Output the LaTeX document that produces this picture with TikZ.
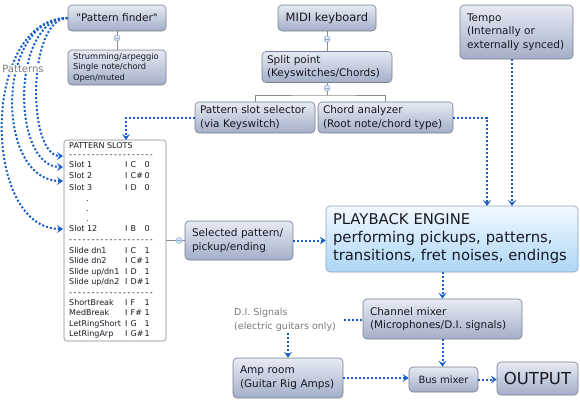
\documentclass[tikz,border=0pt]{standalone}
\usepackage{fontspec}
\setmainfont{DejaVu Sans}[Ligatures=TeXOff]
\newfontfamily\rulefont{DejaVu Sans}[Ligatures=TeXOff, LetterSpace=20]
\usetikzlibrary{arrows.meta}

\definecolor{boxtop}{RGB}{230,234,243}
\definecolor{boxbot}{RGB}{163,174,200}
\definecolor{boxline}{RGB}{118,126,146}
\definecolor{engtop}{RGB}{242,249,255}
\definecolor{engbot}{RGB}{172,214,246}
\definecolor{engline}{RGB}{138,162,188}
\definecolor{flowblue}{RGB}{22,94,204}
\definecolor{linkgray}{RGB}{140,140,140}
\definecolor{notegray}{RGB}{122,122,122}
\definecolor{knobfill}{RGB}{222,232,247}
\definecolor{knobline}{RGB}{140,165,205}
\definecolor{slotline}{RGB}{135,135,135}
\definecolor{textdark}{RGB}{25,25,35}

\tikzset{
	box/.style={draw=boxline, line width=0.6pt, rounded corners=4pt, top color=boxtop, bottom color=boxbot, text=textdark, align=left, inner xsep=6pt, inner ysep=2pt, font=\fontsize{10.5}{13.5}\selectfont},
	centerbox/.style={box, align=center},
	engbox/.style={box, top color=engtop, bottom color=engbot, draw=engline, inner xsep=7pt, font=\fontsize{14.8}{18}\selectfont},
	flowline/.style={draw=flowblue, line width=2pt, dash pattern=on 2pt off 2pt},
	flow/.style={flowline, -{Stealth[length=6pt,width=8pt,inset=2.5pt]}},
	link/.style={draw=linkgray, line width=0.6pt},
	knob/.style={circle, draw=knobline, fill=knobfill, line width=0.5pt, minimum size=6pt, inner sep=0pt,
		path picture={\draw[knobline, line width=0.5pt] ([xshift=-1.6pt]path picture bounding box.center) -- ([xshift=1.6pt]path picture bounding box.center);}},
	slottxt/.style={anchor=west, inner sep=0pt, text height=6pt, text depth=1.5pt, text=textdark, font=\fontsize{8}{10}\selectfont},
	note/.style={text=notegray, align=left, inner sep=1pt, font=\fontsize{9.5}{14}\selectfont}
}

\begin{document}
\begin{tikzpicture}[x=1pt,y=-1pt]
	\useasboundingbox (0,0) rectangle (580,400);

	\node[centerbox, minimum width=98pt, minimum height=26pt] (finder) at (117,18) {"Pattern finder"};
	\node[knob] (k1) at (117,38) {};
	\node[box, inner xsep=5pt, text width=88pt, minimum height=35pt, font=\fontsize{8.3}{10.5}\selectfont] (strum) at (117,67.5) {Strumming/arpeggio\\Single note/chord\\Open/muted};

	\node[centerbox, minimum width=98pt, minimum height=26pt, font=\fontsize{11.5}{13.5}\selectfont] (midi) at (327,18) {MIDI keyboard};
	\node[knob] (k2) at (327,39) {};
	\node[box, inner xsep=5pt, text width=120pt, minimum height=31pt] (split) at (327,67) {Split point\\(Keyswitches/Chords)};
	\node[knob] (k3) at (327,88) {};
	\coordinate (fork) at (327,95);
	\node[box, inner xsep=5pt, text width=110pt, minimum height=31pt] (selector) at (255,117.5) {Pattern slot selector\\(via Keyswitch)};
	\node[box, inner xsep=5pt, text width=125pt, minimum height=31pt] (chord) at (385.5,117.5) {Chord analyzer\\(Root note/chord type)};

	\node[box, inner xsep=7pt, text width=99pt, minimum height=54pt] (tempo) at (516.5,32) {Tempo\\(Internally or\\externally synced)};

	\node[draw=slotline, line width=0.6pt, fill=white, rounded corners=3pt, minimum width=102pt, minimum height=201pt, inner sep=0pt] (slots) at (115,240.5) {};
	\node[slottxt] (slothead) at (69,146) {PATTERN SLOTS};
	\foreach \y [count=\i] in {155,240,293}
		\node[slottxt, font=\rulefont\fontsize{8}{10}\selectfont] (rule\i) at (69,\y) {-------------------};
	\foreach \y [count=\i] in {199,209,219}
		\node[slottxt] (dot\i) at (86,\y) {.};
	\foreach \y/\nm/\nt/\dg [count=\i] in {165/{Slot 1}/C/0, 176.5/{Slot 2}/C\#/0, 188/{Slot 3}/D/0, 229/{Slot 12}/B/0,
		251.5/{Slide dn1}/C/1, 261.5/{Slide dn2}/C\#/1, 272/{Slide up/dn1}/D/1, 282.5/{Slide up/dn2}/D\#/1,
		303/{ShortBreak}/F/1, 313.5/{MedBreak}/F\#/1, 324/{LetRingShort}/G/1, 334/{LetRingArp}/G\#/1}{
		\node[slottxt] (slot\i) at (69,\y) {\nm};
		\node[slottxt] (key\i) at (125,\y) {I};
		\node[slottxt] (note\i) at (130.5,\y) {\nt};
		\node[slottxt] (vel\i) at (144.5,\y) {\dg};
	}
	\node[knob] (k4) at (179,240.5) {};
	\node[box, inner xsep=7pt, text width=94pt, minimum height=39pt] (selected) at (239,240.5) {Selected pattern/\\pickup/ending};

	\node[engbox, text width=238pt, minimum height=66pt] (engine) at (452,239) {PLAYBACK ENGINE\\performing pickups, patterns,\\transitions, fret noises, endings};

	\node[box, inner xsep=7pt, text width=145pt, minimum height=40pt] (chmix) at (442.5,319) {Channel mixer\\(Microphones/D.I. signals)};
	\node[note, anchor=west] (di) at (233,320) {D.I. Signals\\(electric guitars only)};
	\node[box, inner xsep=7pt, text width=96pt, minimum height=40pt] (amp) at (288,378) {Amp room\\(Guitar Rig Amps)};
	\node[centerbox, minimum width=69pt, minimum height=25pt, font=\fontsize{10}{12}\selectfont] (bus) at (443.5,379.5) {Bus mixer};
	\node[centerbox, minimum width=81pt, minimum height=33pt, font=\fontsize{16.5}{18}\selectfont] (output) at (537.5,378.5) {OUTPUT};

	\draw[link] (finder) -- (k1) -- (strum);
	\draw[link] (midi) -- (k2) -- (split);
	\draw[link] (split) -- (k3) -- (fork);
	\draw[link] (selector.north) |- (fork) -| (chord.north);
	\draw[link] (slots) -- (k4) -- (selected);

	\coordinate (p1) at (63,156);
	\coordinate (p2) at (63,167);
	\coordinate (p3) at (63,181);
	\coordinate (p4) at (63,229);
	\draw[flow] (finder.west) .. controls (27,18) and (27,156) .. (p1);
	\draw[flow] (finder.west) .. controls (11,18) and (11,167) .. (p2);
	\draw[flow] (finder.west) .. controls (-5,18) and (-5,181) .. (p3);
	\draw[flow] (finder.west) .. controls (-19,18) and (-19,229) .. (p4);
	\node[note, fill=white, inner sep=0.5pt, font=\fontsize{10}{12}\selectfont] (patlabel) at (23,69) {Patterns};

	\coordinate (slotin) at (126,140);
	\coordinate (engA) at (487,206);
	\coordinate (engB) at (512,206);
	\draw[flow] (selector.west) -| (slotin);
	\draw[flow] (chord.east) -| (engA);
	\draw[flow] (tempo.south -| engB) -- (engB);
	\draw[flow] (selected.east) -- (selected.east -| engine.west);
	\draw[flow] (chmix.north |- engine.south) -- (chmix.north);
	\draw[flowline] ([xshift=7pt]di.east) -- (di.east -| chmix.west);
	\draw[flow] (di.south -| amp.north) -- (amp.north);
	\draw[flow] (chmix.south) -- (chmix.south |- bus.north);
	\draw[flow] (amp.east) -- (amp.east -| bus.west);
	\draw[flow] (bus.east) -- (bus.east -| output.west);
\end{tikzpicture}
\end{document}
